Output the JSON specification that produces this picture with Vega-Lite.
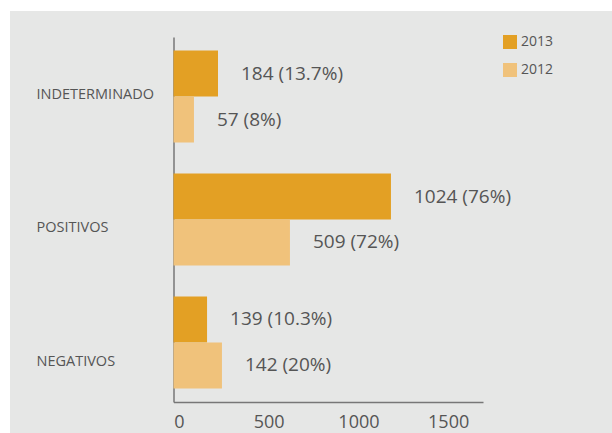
{
  "$schema": "https://vega.github.io/schema/vega-lite/v6.json",
  "width": 602,
  "height": 422,
  "autosize": {"type": "none"},
  "padding": {"left": 10, "top": 11, "right": 0, "bottom": 0},
  "background": "white",
  "config": {"view": {"fill": "#e6e7e6", "stroke": null}, "font": "Open Sans"},
  "data": {"values": [
    {"categoria": "INDETERMINADO", "anio": "2013", "valor": 248, "etiqueta": "184 (13.7%)"},
    {"categoria": "INDETERMINADO", "anio": "2012", "valor": 114, "etiqueta": "57 (8%)"},
    {"categoria": "POSITIVOS", "anio": "2013", "valor": 1212, "etiqueta": "1024 (76%)"},
    {"categoria": "POSITIVOS", "anio": "2012", "valor": 649, "etiqueta": "509 (72%)"},
    {"categoria": "NEGATIVOS", "anio": "2013", "valor": 187, "etiqueta": "139 (10.3%)"},
    {"categoria": "NEGATIVOS", "anio": "2012", "valor": 270, "etiqueta": "142 (20%)"}
  ]},
  "encoding": {
    "y": {
      "field": "categoria", "type": "nominal",
      "sort": ["INDETERMINADO", "POSITIVOS", "NEGATIVOS"],
      "scale": {"range": [26, 391], "paddingInner": 0.252, "paddingOuter": 0.11},
      "axis": {"title": null, "ticks": false, "tickSize": 0, "domainColor": "#777777", "domainWidth": 1.5,
               "labelAlign": "left", "labelBaseline": "middle", "labelPadding": 137.5, "labelFontSize": 14.5,
               "labelColor": "#555555", "offset": -163.5,
               "labelOffset": {"condition": [
                 {"test": "datum.value === 'INDETERMINADO'", "value": -2},
                 {"test": "datum.value === 'NEGATIVOS'", "value": 20}
               ], "value": 8}}
    },
    "yOffset": {"field": "anio", "type": "nominal", "sort": ["2013", "2012"], "scale": {"paddingInner": 0, "paddingOuter": 0}},
    "x": {
      "field": "valor", "type": "quantitative",
      "scale": {"domain": [0, 1725], "range": [163.5, 473], "nice": false, "zero": true},
      "axis": {"title": null, "values": [0, 500, 1000, 1500], "format": "d", "grid": false, "ticks": false, "domainColor": "#777777",
               "domainWidth": 1.5, "labelFontSize": 18, "labelColor": "#555555", "labelPadding": 11,
               "offset": -31, "labelOffset": 5.5, "labelFlush": false}
    }
  },
  "layer": [
    {
      "mark": {"type": "bar"},
      "encoding": {
        "color": {
          "field": "anio", "type": "nominal",
          "scale": {"domain": ["2013", "2012"], "range": ["#e3a024", "#f0c27b"]},
          "legend": {"title": null, "orient": "none", "legendX": 493, "legendY": 24, "symbolType": "square",
                     "symbolSize": 196, "symbolStrokeWidth": 0, "symbolOpacity": 1, "labelFontSize": 14,
                     "labelColor": "#555555", "rowPadding": 14, "padding": 0, "labelOffset": 4}
        }
      }
    },
    {
      "mark": {"type": "text", "align": "left", "baseline": "middle", "dx": 23, "fontSize": 19, "color": "#555555"},
      "encoding": {"text": {"field": "etiqueta"}}
    }
  ]
}
